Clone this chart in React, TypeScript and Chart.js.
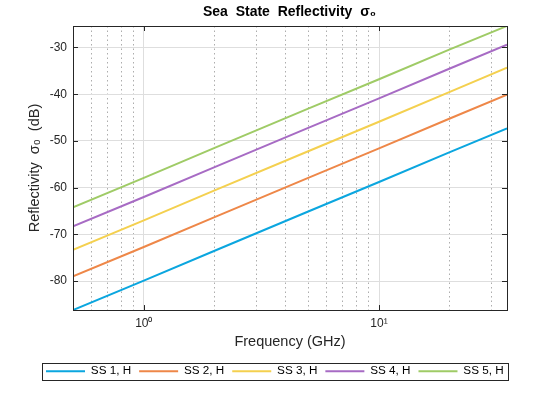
import React, { useEffect, useRef } from 'react';
import { Chart, registerables } from 'chart.js';

Chart.register(...registerables);

const freqs = [0.5, 1, 2, 5, 10, 20, 35];
const seriesNames = ['SS 1, H', 'SS 2, H', 'SS 3, H', 'SS 4, H', 'SS 5, H'];
const ss1 = [-86.2, -79.9, -73.5, -65.1, -58.8, -52.4, -47.3];
const ss2 = [-79.0, -72.7, -66.3, -57.9, -51.6, -45.2, -40.1];
const ss3 = [-73.3, -67.0, -60.6, -52.2, -45.9, -39.5, -34.3];
const ss4 = [-68.3, -62.0, -55.6, -47.2, -40.9, -34.5, -29.4];
const ss5 = [-64.2, -57.9, -51.5, -43.1, -36.8, -30.4, -25.4];
const xTicks = [0.5, 0.6, 0.7, 0.8, 0.9, 1, 2, 3, 4, 5, 6, 7, 8, 9, 10, 20, 30];
const yTicks = [-80, -70, -60, -50, -40, -30];
const colors = ['#0BA6DF', '#EE8748', '#F4D04F', '#A76BC4', '#9FCB66'];

const FONT = "'Liberation Sans', Arial, sans-serif";
const AX = '#262626';
const isMajor = (v: number) => v === 1 || v === 10;

const boxPlugin = {
  id: 'matlabBox',
  afterDraw(chart: any) {
    const { ctx, chartArea: a, scales } = chart;
    ctx.save();
    ctx.strokeStyle = AX;
    ctx.lineWidth = 1;
    ctx.beginPath();
    for (const v of yTicks) {
      const y = Math.round(scales.y.getPixelForValue(v)) + 0.5;
      ctx.moveTo(a.left, y); ctx.lineTo(a.left + 5, y);
      ctx.moveTo(a.right, y); ctx.lineTo(a.right - 5, y);
    }
    for (const v of xTicks.filter(isMajor)) {
      const x = Math.round(scales.x.getPixelForValue(v)) + 0.5;
      ctx.moveTo(x, a.bottom); ctx.lineTo(x, a.bottom - 5);
      ctx.moveTo(x, a.top); ctx.lineTo(x, a.top + 5);
    }
    ctx.stroke();
    ctx.strokeRect(Math.round(a.left) + 0.5, Math.round(a.top) + 0.5, Math.round(a.right - a.left), Math.round(a.bottom - a.top));

    const hb = chart.legend?.legendHitBoxes;
    if (hb && hb.length) {
      const first = hb[0];
      const last = hb[hb.length - 1];
      const cy = first.top + first.height / 2;
      const l = Math.round(first.left - 4) + 0.5;
      const r = Math.round(last.left + last.width + 4) + 0.5;
      const t = Math.round(cy - 8.5) + 0.5;
      ctx.strokeRect(l, t, r - l, 17);
    }
    ctx.restore();
  },
};

export default function App() {
  const canvasRef = useRef<HTMLCanvasElement>(null);
  const chartRef = useRef<Chart | null>(null);

  useEffect(() => {
    if (!canvasRef.current) return;
    const ctx = canvasRef.current.getContext('2d');
    if (!ctx) return;
    if (chartRef.current) chartRef.current.destroy();

    const series = [ss1, ss2, ss3, ss4, ss5];

    chartRef.current = new Chart(ctx, {
      type: 'line',
      data: {
        datasets: series.map((vals, i) => ({
          label: seriesNames[i],
          data: vals.map((y, j) => ({ x: freqs[j], y })),
          borderColor: colors[i],
          backgroundColor: colors[i],
          borderWidth: 2,
          pointRadius: 0,
          tension: 0,
        })),
      },
      options: {
        responsive: true,
        maintainAspectRatio: false,
        animation: false,
        layout: { padding: { left: 38, right: 19, top: 0, bottom: 33 } },
        scales: {
          x: {
            type: 'logarithmic',
            min: 0.5,
            max: 35,
            afterBuildTicks: (s: any) => { s.ticks = xTicks.map((value) => ({ value })); },
            afterFit: (s: any) => { s.height = 47.25; },
            ticks: {
              autoSkip: false,
              maxRotation: 0,
              padding: 6,
              color: AX,
              font: { family: FONT, size: 12 },
              callback: (v: any) => (v === 1 ? '10⁰' : v === 10 ? '10¹' : ''),
            },
            grid: {
              drawTicks: false,
              color: (c: any) => (isMajor(c.tick?.value) ? '#dedede' : '#adadad'),
              lineWidth: 1,
            },
            border: {
              display: false,
              dash: (c: any) => (isMajor(c.tick?.value) ? [] : [1.5, 3]),
            },
            title: {
              display: true,
              text: 'Frequency (GHz)',
              color: AX,
              font: { family: FONT, size: 14.5 },
              padding: { top: 0, bottom: 6.5 },
            },
          },
          y: {
            type: 'linear',
            min: -86.2,
            max: -25.4,
            afterBuildTicks: (s: any) => { s.ticks = yTicks.map((value) => ({ value })); },
            afterFit: (s: any) => { s.width = 35; },
            ticks: {
              padding: 6,
              color: AX,
              font: { family: FONT, size: 12 },
            },
            grid: { drawTicks: false, color: '#dedede', lineWidth: 1 },
            border: { display: false },
            title: {
              display: true,
              text: 'Reflectivity  σ₀  (dB)',
              color: AX,
              font: { family: FONT, size: 14.5 },
              padding: { top: -11.7, bottom: 0 },
            },
          },
          y2: {
            type: 'linear',
            position: 'right',
            min: -86.2,
            max: -25.4,
            afterFit: (s: any) => { s.width = 34; },
            grid: { display: false },
            ticks: { display: false },
            border: { display: false },
          },
        },
        plugins: {
          title: {
            display: true,
            text: 'Sea  State  Reflectivity  σ₀',
            color: '#000',
            font: { family: FONT, size: 14, weight: 'bold' },
            padding: { top: 3.6, bottom: 5.6 },
          },
          legend: {
            position: 'bottom',
            align: 'start',
            labels: {
              boxWidth: 39,
              boxHeight: 2,
              padding: 8,
              color: '#000',
              font: { family: FONT, size: 11.7 },
              generateLabels: (chart: any) =>
                Chart.defaults.plugins.legend.labels
                  .generateLabels(chart)
                  .map((l: any) => ({ ...l, lineWidth: 0 })),
            },
          },
          tooltip: { enabled: false },
        },
      },
      plugins: [boxPlugin],
    } as any);

    return () => chartRef.current?.destroy();
  }, []);

  return (
    <div style={{ position: 'fixed', left: 0, top: 0, width: 560, height: 420, background: '#fff' }}>
      <canvas ref={canvasRef}></canvas>
    </div>
  );
}
